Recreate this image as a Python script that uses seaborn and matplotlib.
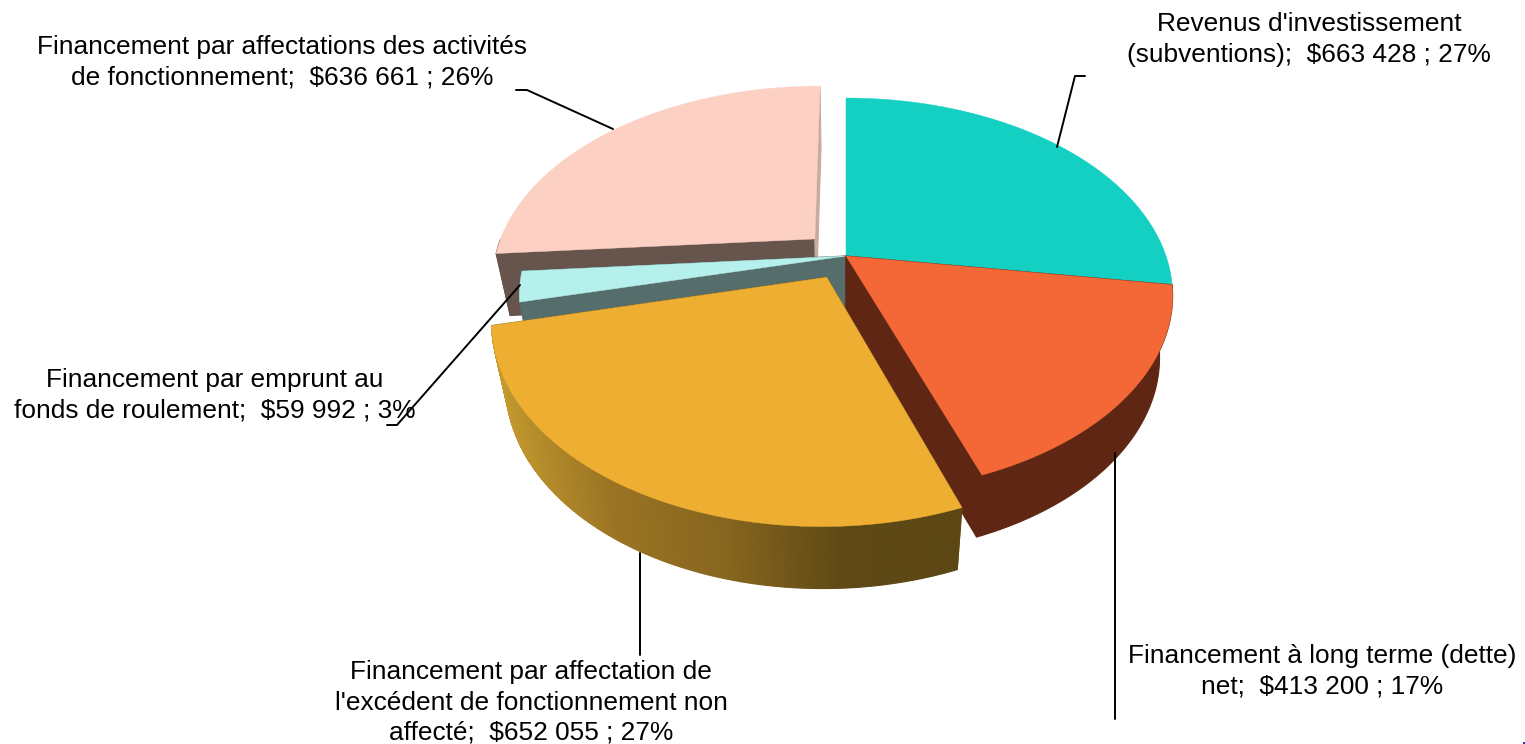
import numpy as np
import seaborn as sns
import matplotlib
matplotlib.use('Agg')
import matplotlib.pyplot as plt
from matplotlib.patches import Polygon

sns.set_theme(style='white')
plt.rcParams['font.family'] = ['Liberation Sans', 'DejaVu Sans']

# montants, dans le sens horaire depuis midi
names = ["Revenus d'investissement\n(subventions);  $663 428 ; 27%",
         "Financement à long terme (dette)\nnet;  $413 200 ; 17%",
         "Financement par affectation de\nl'excédent de fonctionnement non\naffecté;  $652 055 ; 27%",
         "Financement par emprunt au\nfonds de roulement;  $59 992 ; 3%",
         "Financement par affectations des activités\nde fonctionnement;  $636 661 ; 26%"]
values = [663428, 413200, 652055, 59992, 636661]
explode = [0, 0, 0.125, 0, 0.135]
top_colors = ['#14D0C2', '#F46736', '#EDAE32', '#B6F0EC', '#FDD0C4']
wall_colors = ['#0A6860', '#5F2713', '#8F6B20', '#556E6B', '#67544C']
yellow_wall = ['#C49A2E', '#9A7423', '#86651E', '#5E4815', '#5C4714']

label_x = [1309, 1322, 531, 215, 282]
label_y = [39.5, 671.5, 702.5, 395.5, 62.5]
leaders = [[(1057, 147), (1075, 76), (1085, 76)],
           [(1115, 453), (1115, 719)],
           [(640, 553), (640, 655)],
           [(520, 285), (397, 425), (387, 425)],
           [(613, 129), (527, 90), (516, 90)]]

# perspective du disque
CX, CY = 846, 256
RX, RY, PERSP, DEPTH, BOTTOM = 320, 189.6, 0.2, 62, 0.96


def project(u, v):
    w = 1 + PERSP * v
    return CX + RX * u / w, CY - RY * v / w


def lower(x, y):
    # face du bas un peu plus petite
    return CX + (x - CX) * BOTTOM, y + DEPTH


fig = plt.figure(figsize=(15.25, 7.44), dpi=100)
ax = fig.add_axes([0, 0, 1, 1])
ax.set_xlim(0, 1525)
ax.set_ylim(744, 0)
ax.axis('off')

angles = np.concatenate([[0], np.cumsum(values) / np.sum(values) * 2 * np.pi])


def slice_shape(i):
    mid = (angles[i] + angles[i + 1]) / 2
    du, dv = explode[i] * np.sin(mid), explode[i] * np.cos(mid)
    t = np.linspace(angles[i], angles[i + 1], 200)
    ax_, ay_ = project(du, dv)
    ex, ey = project(np.sin(t) + du, np.cos(t) + dv)
    return (ax_, ay_), ex, ey


# de l'arriere vers l'avant
for i in [4, 0, 3, 1, 2]:
    apex, ex, ey = slice_shape(i)
    wall = wall_colors[i]
    bx, by = lower(ex, ey)
    if i != 0:  # la tranche bleue n'a pas de paroi visible
        # faces de coupe
        cut_colors = [wall, '#C9AAA0' if i == 4 else wall]
        for (px, py), col in zip([(ex[0], ey[0]), (ex[-1], ey[-1])], cut_colors):
            cut = [apex, (px, py), lower(px, py), lower(*apex)]
            ax.add_patch(Polygon(cut, closed=True, fc=col, ec=col, lw=0.8))
        # paroi exterieure
        if i == 2:
            grad = sns.blend_palette(yellow_wall, n_colors=256)
            pos = (ex - ex.min()) / (ex.max() - ex.min()) * 255
            for k in range(len(ex) - 1):
                col = grad[int(pos[k])]
                quad = [(ex[k], ey[k]), (ex[k + 1], ey[k + 1]),
                        (bx[k + 1], by[k + 1]), (bx[k], by[k])]
                ax.add_patch(Polygon(quad, closed=True, fc=col, ec=col, lw=0.8))
        else:
            keep = ey >= apex[1]
            outline = list(zip(ex[keep], ey[keep])) + list(zip(bx[keep][::-1], by[keep][::-1]))
            ax.add_patch(Polygon(outline, closed=True, fc=wall, ec=wall, lw=0.8))
    top = [apex] + list(zip(ex, ey))
    ax.add_patch(Polygon(top, closed=True, fc=top_colors[i], ec=top_colors[i], lw=0.3))

for pts in leaders:
    xs, ys = zip(*pts)
    sns.lineplot(x=list(xs), y=list(ys), ax=ax, color='black', lw=1.4, sort=False,
                 estimator=None, legend=False, zorder=5)

ax.set_xlim(0, 1525)
ax.set_ylim(744, 0)

for n, lx, ly in zip(names, label_x, label_y):
    ax.text(lx, ly, n, ha='center', va='center', fontsize=18.9, color='black',
            linespacing=1.33, zorder=6)

# petit point bleu du coin
ax.plot([1523.5], [742.5], marker='s', ms=1.5, color='#2030E0', mew=0, clip_on=False)

fig.savefig('out.png', dpi=100)
